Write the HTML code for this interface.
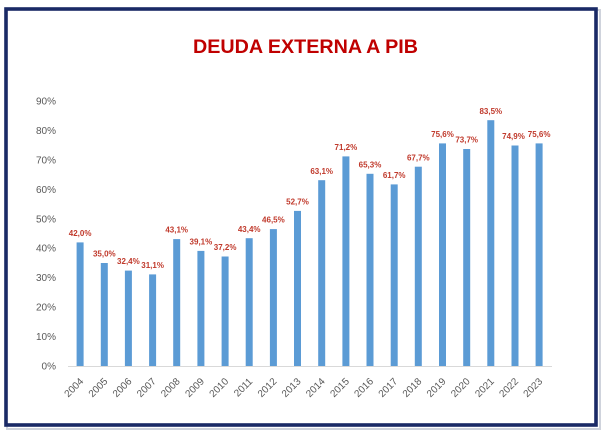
<!DOCTYPE html>
<html>
<head>
<meta charset="utf-8">
<style>
html,body{margin:0;padding:0;background:#fff;}
svg{display:block;}
</style>
</head>
<body>
<svg width="605" height="436" viewBox="0 0 605 436" xmlns="http://www.w3.org/2000/svg" font-family="'Liberation Sans', sans-serif">
<rect x="0" y="0" width="605" height="436" fill="#ffffff"/>
<!-- shadow -->
<rect x="7" y="10" width="593" height="419" fill="none" stroke="#cfd3dc" stroke-width="2"/>
<!-- frame -->
<rect x="6" y="9" width="590" height="416" fill="#ffffff" stroke="#1a2a66" stroke-width="3.6"/>
<!-- title -->
<text x="305.5" y="53" text-anchor="middle" font-size="19.5" font-weight="bold" fill="#c00000" textLength="225" lengthAdjust="spacingAndGlyphs">DEUDA EXTERNA A PIB</text>
<!-- y axis labels -->
<g font-size="10" fill="#595959" text-anchor="end">
<text x="56" y="369.5">0%</text>
<text x="56" y="340.1">10%</text>
<text x="56" y="310.6">20%</text>
<text x="56" y="281.2">30%</text>
<text x="56" y="251.7">40%</text>
<text x="56" y="222.3">50%</text>
<text x="56" y="192.8">60%</text>
<text x="56" y="163.4">70%</text>
<text x="56" y="133.9">80%</text>
<text x="56" y="104.5">90%</text>
</g>
<!-- baseline -->
<line x1="68" y1="366.5" x2="552" y2="366.5" stroke="#d9d9d9" stroke-width="1"/>
<!-- bars -->
<g fill="#5b9bd5">
<rect x="76.6" y="242.4" width="7" height="123.6"/>
<rect x="100.8" y="263.0" width="7" height="103.0"/>
<rect x="124.9" y="270.6" width="7" height="95.4"/>
<rect x="149.1" y="274.4" width="7" height="91.6"/>
<rect x="173.2" y="239.1" width="7" height="126.9"/>
<rect x="197.4" y="250.9" width="7" height="115.1"/>
<rect x="221.6" y="256.5" width="7" height="109.5"/>
<rect x="245.7" y="238.2" width="7" height="127.8"/>
<rect x="269.9" y="229.1" width="7" height="136.9"/>
<rect x="294.0" y="210.9" width="7" height="155.1"/>
<rect x="318.2" y="180.2" width="7" height="185.8"/>
<rect x="342.4" y="156.4" width="7" height="209.6"/>
<rect x="366.5" y="173.8" width="7" height="192.2"/>
<rect x="390.7" y="184.4" width="7" height="181.6"/>
<rect x="414.8" y="166.7" width="7" height="199.3"/>
<rect x="439.0" y="143.4" width="7" height="222.6"/>
<rect x="463.2" y="149.0" width="7" height="217.0"/>
<rect x="487.3" y="120.2" width="7" height="245.8"/>
<rect x="511.5" y="145.5" width="7" height="220.5"/>
<rect x="535.6" y="143.4" width="7" height="222.6"/>
</g>
<!-- data labels -->
<g font-size="8" font-weight="bold" fill="#c0392b" text-anchor="middle">
<text x="80.1" y="236">42,0%</text>
<text x="104.3" y="256.6">35,0%</text>
<text x="128.4" y="264.2">32,4%</text>
<text x="152.6" y="268">31,1%</text>
<text x="176.7" y="232.7">43,1%</text>
<text x="200.9" y="244.5">39,1%</text>
<text x="225.1" y="250.1">37,2%</text>
<text x="249.2" y="231.8">43,4%</text>
<text x="273.4" y="222.7">46,5%</text>
<text x="297.5" y="204.5">52,7%</text>
<text x="321.7" y="173.8">63,1%</text>
<text x="345.9" y="150">71,2%</text>
<text x="370.0" y="167.4">65,3%</text>
<text x="394.2" y="178">61,7%</text>
<text x="418.3" y="160.3">67,7%</text>
<text x="442.5" y="137">75,6%</text>
<text x="466.7" y="142.6">73,7%</text>
<text x="490.8" y="113.8">83,5%</text>
<text x="513.5" y="139.1">74,9%</text>
<text x="539.1" y="137">75,6%</text>
</g>
<!-- x labels -->
<g font-size="10" fill="#595959" text-anchor="end">
<text transform="translate(84,382) rotate(-45)">2004</text>
<text transform="translate(108.2,382) rotate(-45)">2005</text>
<text transform="translate(132.3,382) rotate(-45)">2006</text>
<text transform="translate(156.5,382) rotate(-45)">2007</text>
<text transform="translate(180.6,382) rotate(-45)">2008</text>
<text transform="translate(204.8,382) rotate(-45)">2009</text>
<text transform="translate(229,382) rotate(-45)">2010</text>
<text transform="translate(253.1,382) rotate(-45)">2011</text>
<text transform="translate(277.3,382) rotate(-45)">2012</text>
<text transform="translate(301.4,382) rotate(-45)">2013</text>
<text transform="translate(325.6,382) rotate(-45)">2014</text>
<text transform="translate(349.8,382) rotate(-45)">2015</text>
<text transform="translate(373.9,382) rotate(-45)">2016</text>
<text transform="translate(398.1,382) rotate(-45)">2017</text>
<text transform="translate(422.2,382) rotate(-45)">2018</text>
<text transform="translate(446.4,382) rotate(-45)">2019</text>
<text transform="translate(470.6,382) rotate(-45)">2020</text>
<text transform="translate(494.7,382) rotate(-45)">2021</text>
<text transform="translate(518.9,382) rotate(-45)">2022</text>
<text transform="translate(543,382) rotate(-45)">2023</text>
</g>
</svg>
</body>
</html>
